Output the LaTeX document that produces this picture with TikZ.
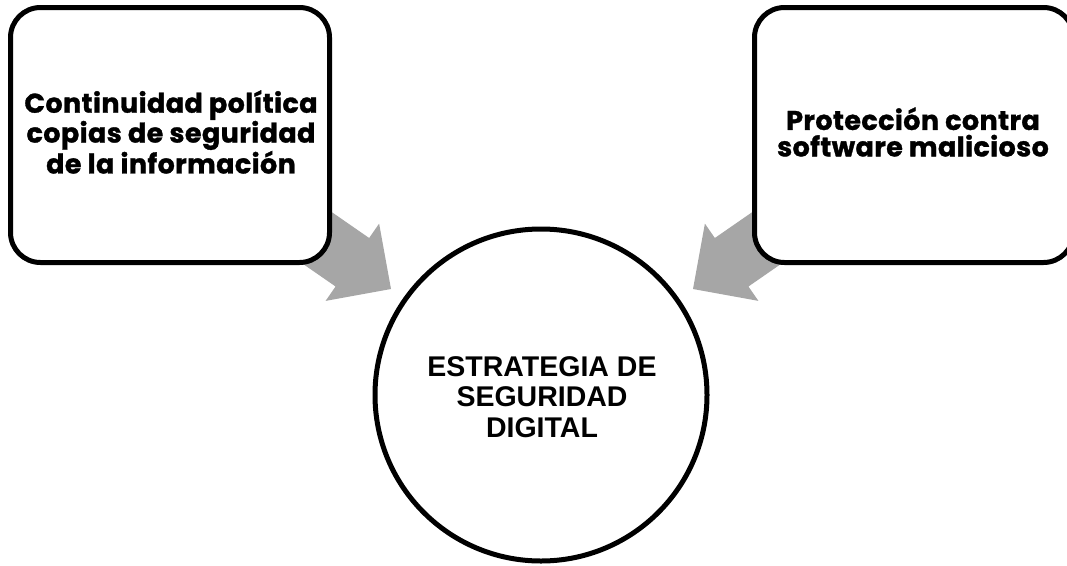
\documentclass[tikz,border=0pt]{standalone}
\usepackage{fontspec}
\setmainfont{Liberation Sans}
\newfontfamily\boxfont[Ligatures=NoCommon, LetterSpace=1.5, BoldFeatures={FakeBold=1.2}]{Poppins}
\definecolor{arrowgray}{HTML}{A6A6A6}
\begin{document}
\begin{tikzpicture}[x=1pt,y=1pt,
  bigarrow/.style={fill=arrowgray, draw=none},
  boxnode/.style={draw=black, line width=5pt, rounded corners=30pt, fill=white},
  boxtext/.style={align=center, font=\boxfont\bfseries\fontsize{27}{26.5}\selectfont, inner sep=0pt},
  centertext/.style={align=center, font=\bfseries\fontsize{28.5}{30.3}\selectfont, inner sep=0pt}]
\useasboundingbox (0,0) rectangle (1067,-565);
\clip (0,0) rectangle (1067,-565);
% arrows (drawn first, boxes cover their tails)
\coordinate (tipL) at (391,-289);
\coordinate (tipR) at (693,-289);
\begin{scope}[shift={(tipL)}, rotate=-34.7]
  \fill[bigarrow] (0,0) -- (-47,47) -- (-47,29.5) -- (-150,29.5) -- (-150,-29.5) -- (-47,-29.5) -- (-47,-47) -- cycle;
\end{scope}
\begin{scope}[shift={(tipR)}, rotate=214.7]
  \fill[bigarrow] (0,0) -- (-47,47) -- (-47,29.5) -- (-150,29.5) -- (-150,-29.5) -- (-47,-29.5) -- (-47,-47) -- cycle;
\end{scope}
% boxes
\draw[boxnode] (10.5,-7.5) rectangle (329.5,-262.5);
\draw[boxnode] (754.5,-7.5) rectangle (1073.5,-262.5);
\node[boxtext] (left) at (171,-132) {Continuidad política\\copias de seguridad\\de la información};
\node[boxtext] (right) at (913,-132) {Protección contra\\software malicioso};
% circle
\draw[line width=5pt, fill=white] (541,-395) circle (166);
\node[centertext] (center) at (542,-397) {ESTRATEGIA DE\\SEGURIDAD\\DIGITAL};
\end{tikzpicture}
\end{document}
